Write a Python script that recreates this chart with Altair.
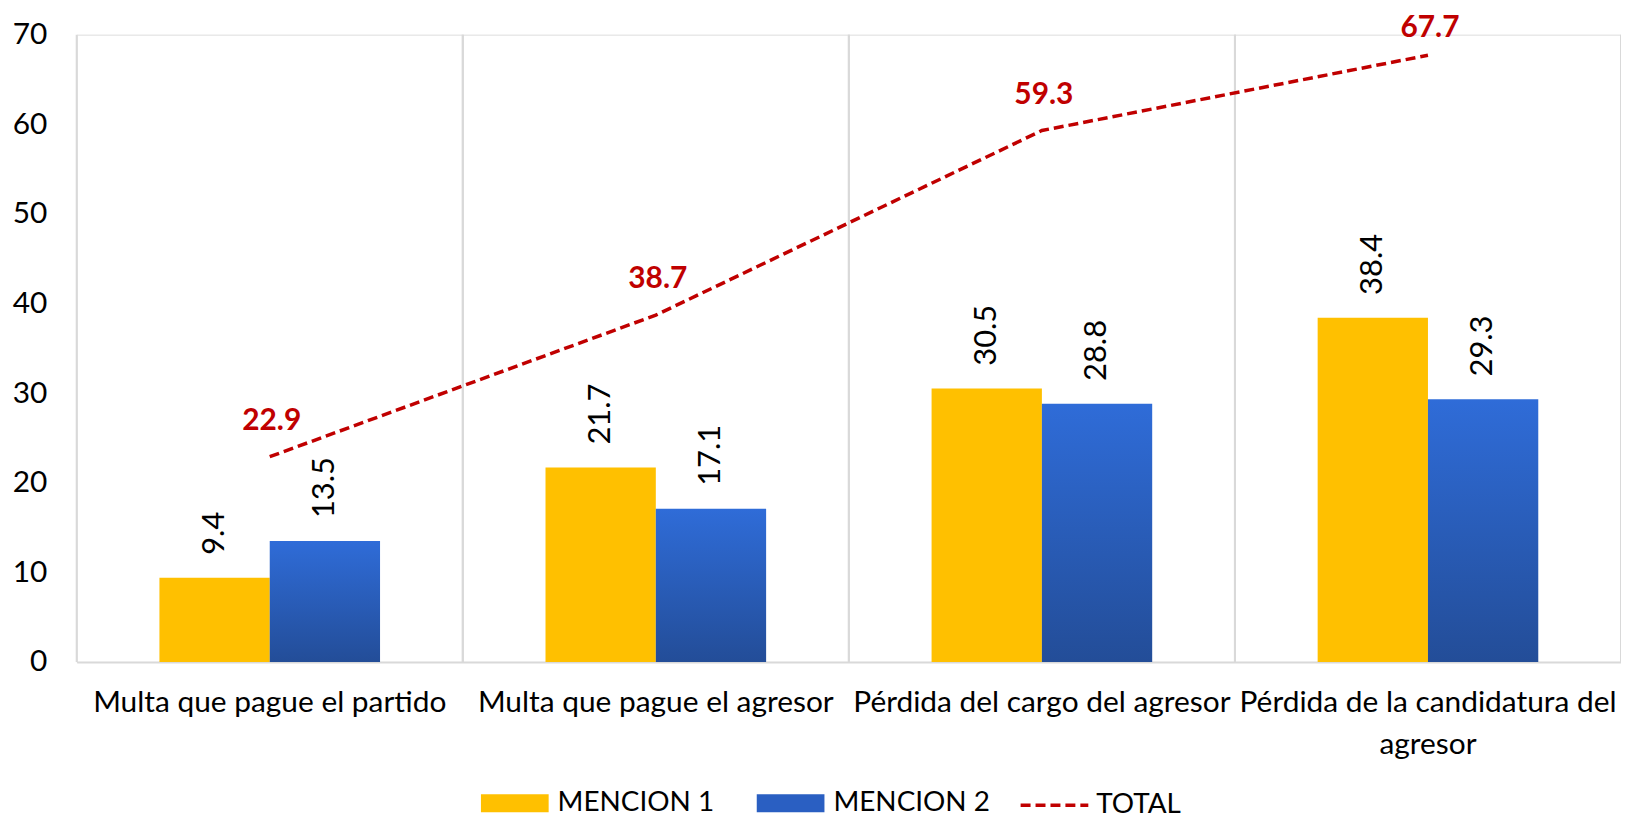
import altair as alt
import pandas as pd

categories = [
    "Multa que pague el partido",
    "Multa que pague el agresor",
    "Pérdida del cargo del agresor",
    "Pérdida de la candidatura del agresor",
]
mencion1 = [9.4, 21.7, 30.5, 38.4]
mencion2 = [13.5, 17.1, 28.8, 29.3]
total = [22.9, 38.7, 59.3, 67.7]
series_names = ["MENCION 1", "MENCION 2"]
y_ticks = [0, 10, 20, 30, 40, 50, 60, 70]

FONT = "Lato"

bars_df = pd.DataFrame(
    [{"cat": c, "series": series_names[0], "value": v} for c, v in zip(categories, mencion1)]
    + [{"cat": c, "series": series_names[1], "value": v} for c, v in zip(categories, mencion2)]
)
total_df = pd.DataFrame({"cat": categories, "value": total, "serie": ["TOTAL"] * len(categories)})
cat_df = pd.DataFrame({"cat": categories})

label_expr = (
    "datum.value == 'Pérdida de la candidatura del agresor' ? "
    "['Pérdida de la candidatura del', 'agresor'] : datum.value"
)

x_enc = alt.X(
    "cat:N",
    sort=categories,
    scale=alt.Scale(paddingInner=0, paddingOuter=0),
    axis=alt.Axis(
        title=None,
        labelAngle=0,
        labelAlign="center",
        labelExpr=label_expr,
        labelFont=FONT,
        labelFontSize=30,
        labelColor="#000000",
        labelLimit=0,
        labelPadding=41,
        labelLineHeight=42,
        ticks=False,
        grid=False,
        domainColor="#D9D9D9",
        domainWidth=2,
    ),
)
y_scale = alt.Scale(domain=[0, 70], nice=False)
y_enc = alt.Y(
    "value:Q",
    scale=y_scale,
    axis=alt.Axis(
        title=None,
        values=y_ticks,
        grid=False,
        domain=False,
        ticks=False,
        labelPadding=30,
        labelFont=FONT,
        labelFontSize=30,
        labelColor="#000000",
    ),
)
xoff_scale = alt.Scale(paddingOuter=0.75, paddingInner=0)

grid_start = alt.Chart(cat_df).mark_rule(color="#D9D9D9", strokeWidth=2).encode(
    x=alt.X("cat:N", sort=categories, bandPosition=0),
    y=alt.datum(0, scale=y_scale),
    y2=alt.datum(70),
)
grid_end = alt.Chart(cat_df).mark_rule(color="#D9D9D9", strokeWidth=2).encode(
    x=alt.X("cat:N", sort=categories, bandPosition=1),
    y=alt.datum(0, scale=y_scale),
    y2=alt.datum(70),
)

blue_gradient = {
    "gradient": "linear",
    "x1": 0, "y1": 0, "x2": 0, "y2": 1,
    "stops": [
        {"offset": 0, "color": "#2F6CD8"},
        {"offset": 1, "color": "#234D98"},
    ],
}

bars = alt.Chart(bars_df).mark_bar().encode(
    x=x_enc,
    xOffset=alt.XOffset("series:N", sort=series_names, scale=xoff_scale),
    y=y_enc,
    color=alt.condition(
        "datum.series == 'MENCION 2'",
        alt.value(blue_gradient),
        alt.Color(
            "series:N",
            sort=series_names,
            scale=alt.Scale(domain=series_names, range=["#FFC000", "#2A5FC2"]),
            legend=alt.Legend(
                title=None,
                orient="none",
                legendX=406,
                legendY=738,
                direction="horizontal",
                symbolType="M-1,-0.265H1V0.265H-1Z",
                symbolSize=4624,
                symbolStrokeWidth=0,
                symbolOpacity=1,
                labelFont=FONT,
                labelFontSize=28,
                labelColor="#000000",
                labelLimit=0,
                labelOffset=9,
                columnPadding=42,
            ),
        ),
    ),
)

bar_labels = alt.Chart(bars_df).mark_text(
    angle=270, align="left", baseline="middle", dx=23,
    font=FONT, fontSize=31, color="#000000",
).encode(
    x=alt.X("cat:N", sort=categories),
    xOffset=alt.XOffset("series:N", sort=series_names, scale=xoff_scale),
    y=alt.Y("value:Q", scale=y_scale),
    text=alt.Text("value:Q", format=".1f"),
)

line = alt.Chart(total_df).mark_line(color="#C00000", strokeWidth=3.5).encode(
    x=alt.X("cat:N", sort=categories),
    y=alt.Y("value:Q", scale=y_scale),
    strokeDash=alt.StrokeDash(
        "serie:N",
        scale=alt.Scale(domain=["TOTAL"], range=[[10, 5]]),
        legend=alt.Legend(
            title=None,
            orient="none",
            legendX=946,
            legendY=738,
            direction="horizontal",
            symbolType="stroke",
            symbolSize=4624,
            symbolStrokeColor="#C00000",
            symbolStrokeWidth=3.5,
            labelFont=FONT,
            labelFontSize=28,
            labelColor="#000000",
            labelLimit=0,
            labelOffset=6,
        ),
    ),
)

last_cat = categories[-1]
total_labels_main = alt.Chart(total_df).transform_filter(
    alt.datum.cat != last_cat
).mark_text(
    align="center", baseline="alphabetic", dy=-27, dx=2,
    font=FONT, fontSize=30, fontWeight="bold", color="#C00000",
).encode(
    x=alt.X("cat:N", sort=categories),
    y=alt.Y("value:Q", scale=y_scale),
    text=alt.Text("value:Q", format=".1f"),
)
total_labels_last = alt.Chart(total_df).transform_filter(
    alt.datum.cat == last_cat
).mark_text(
    align="center", baseline="alphabetic", dy=-18, dx=2,
    font=FONT, fontSize=30, fontWeight="bold", color="#C00000",
).encode(
    x=alt.X("cat:N", sort=categories),
    y=alt.Y("value:Q", scale=y_scale),
    text=alt.Text("value:Q", format=".1f"),
)

chart = (
    alt.layer(grid_start, grid_end, bars, bar_labels, line,
              total_labels_main, total_labels_last)
    .properties(
        width=1551,
        height=630,
        autosize=alt.AutoSizeParams(type="none"),
        padding={"left": 69, "top": 25, "right": 0, "bottom": 155},
    )
    .configure_view(stroke=None)
    .configure(font=FONT)
)

chart.save("out.html", embed_options={"renderer": "svg", "actions": False})
